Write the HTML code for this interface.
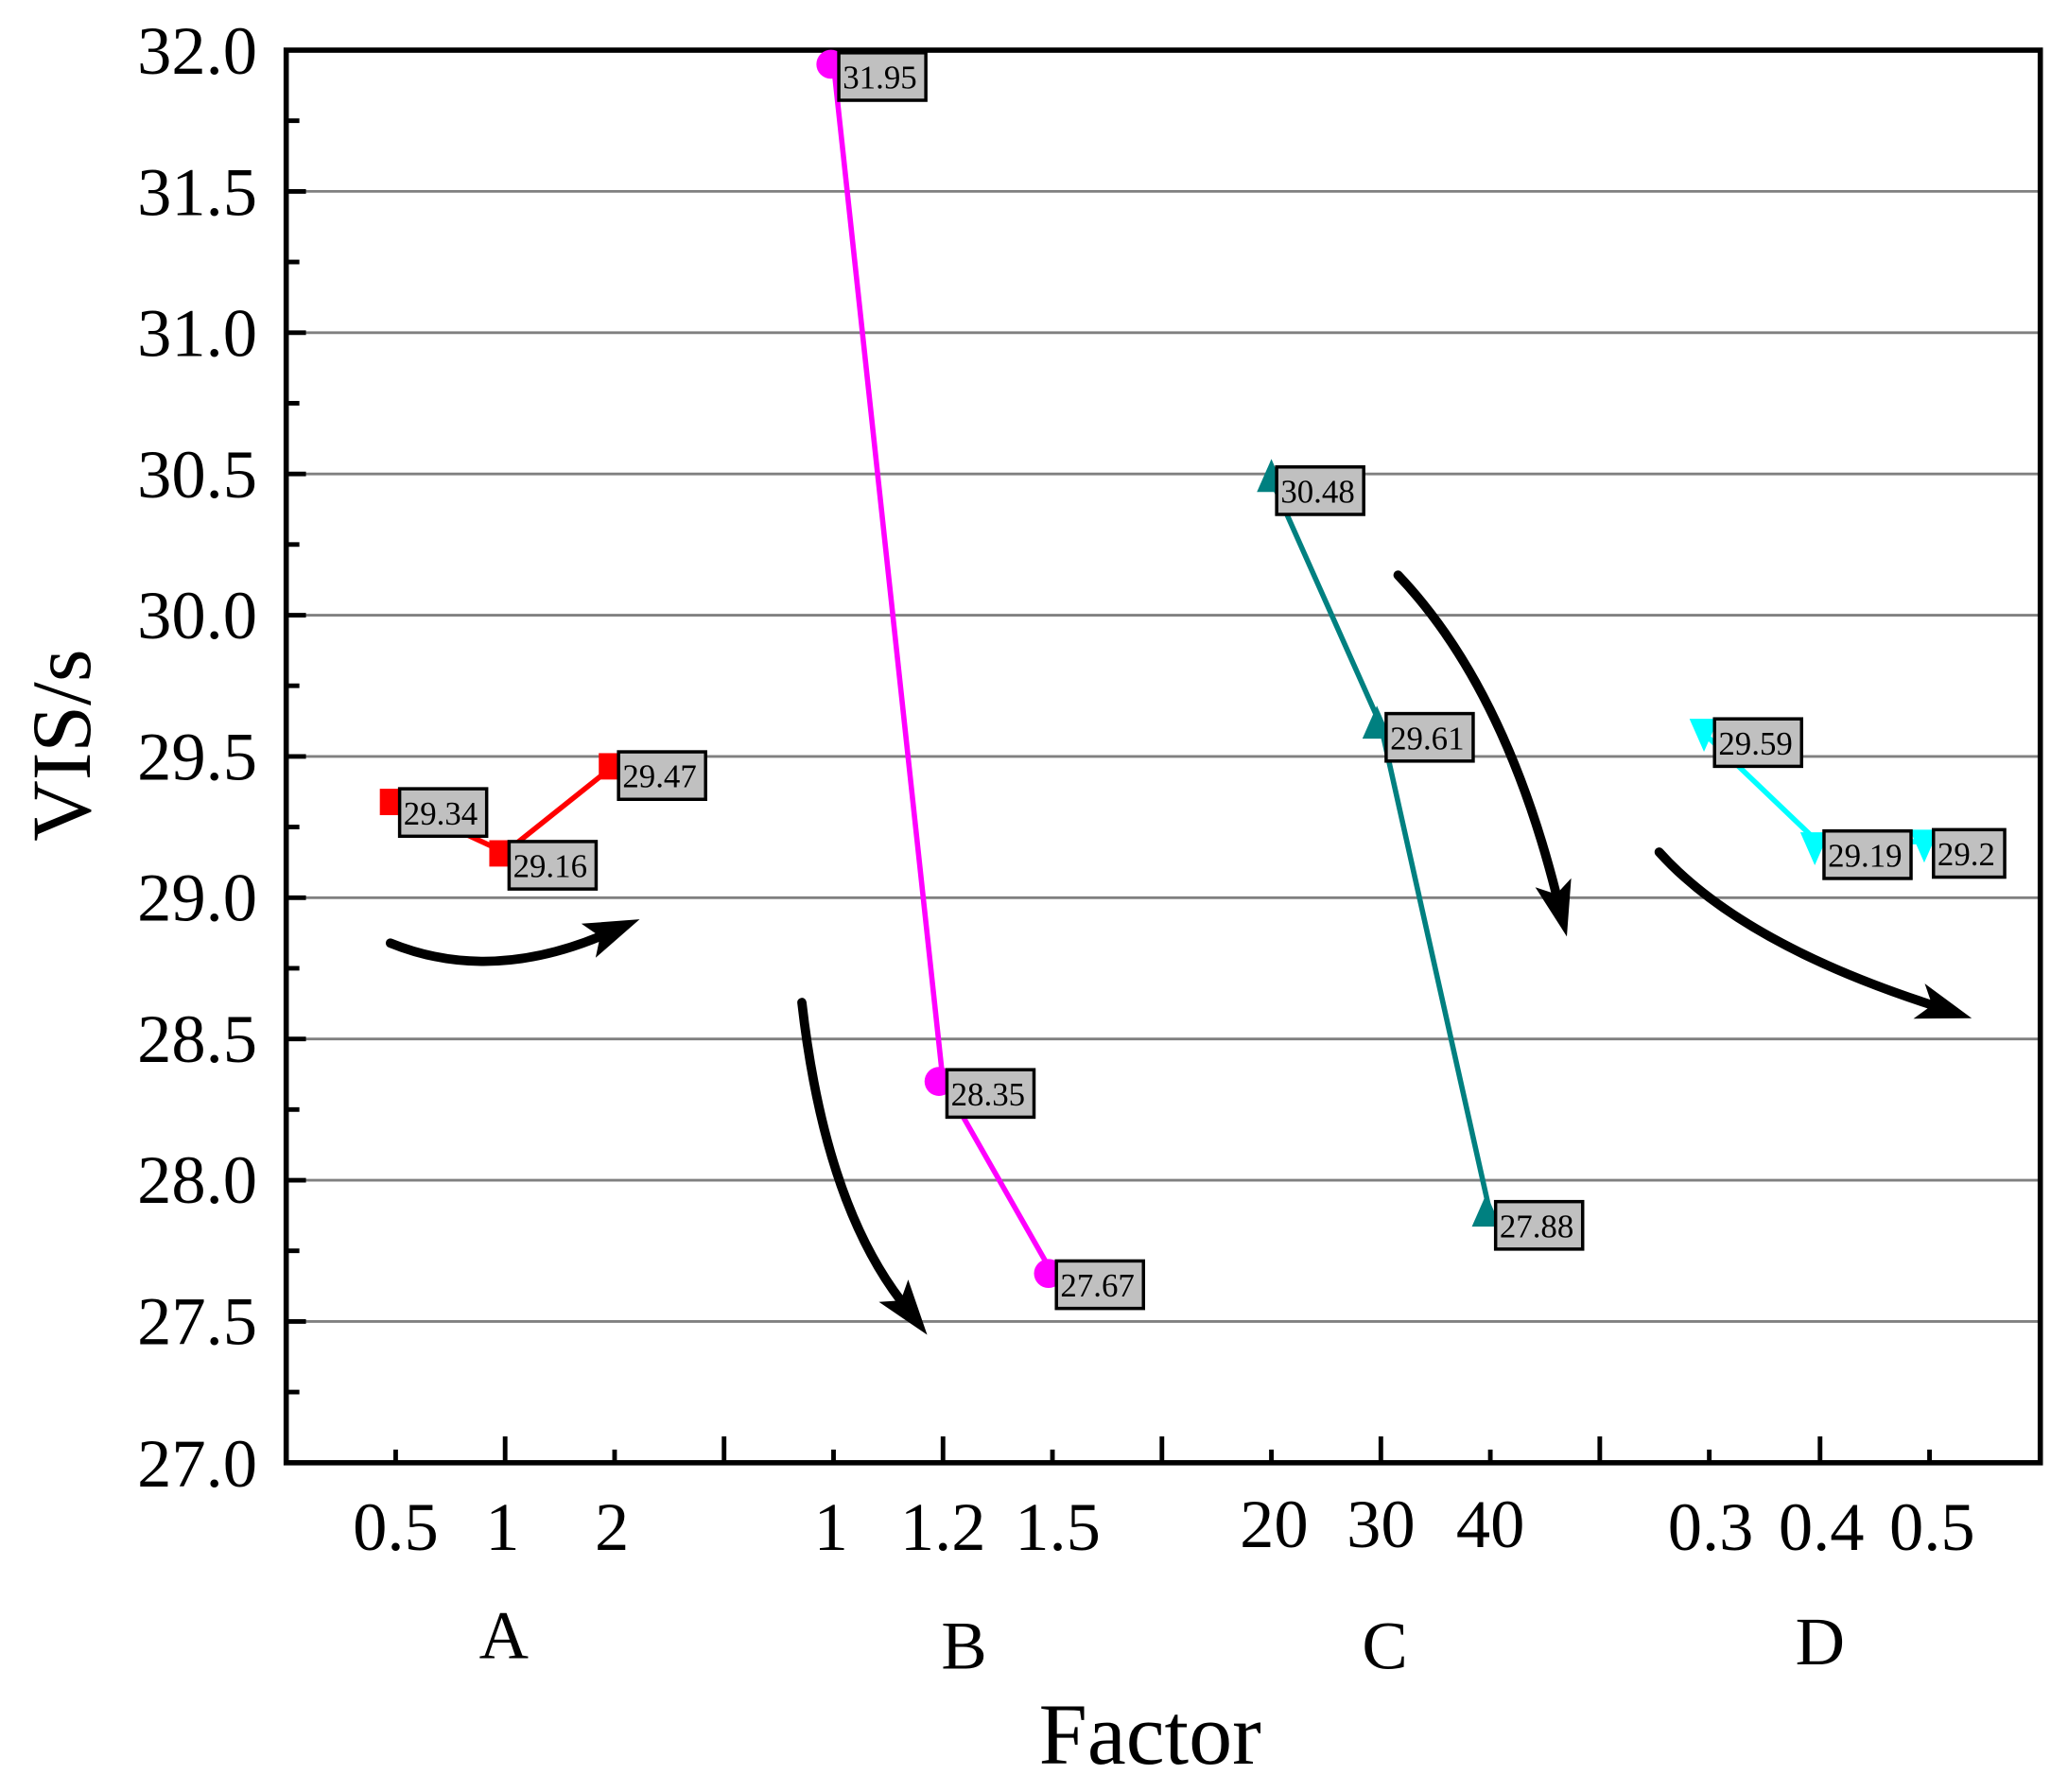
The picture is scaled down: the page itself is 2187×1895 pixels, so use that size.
<!DOCTYPE html>
<html><head><meta charset="utf-8"><style>html,body{margin:0;padding:0;background:#fff}svg{display:block}</style></head>
<body>
<svg width="2187" height="1895" viewBox="0 0 1568 1358.6" xmlns="http://www.w3.org/2000/svg" font-family="Liberation Serif, serif">
<g stroke="#808080" stroke-width="2">
<line x1="217" x2="1547" y1="145.1" y2="145.1"/>
<line x1="217" x2="1547" y1="252.2" y2="252.2"/>
<line x1="217" x2="1547" y1="359.3" y2="359.3"/>
<line x1="217" x2="1547" y1="466.4" y2="466.4"/>
<line x1="217" x2="1547" y1="573.5" y2="573.5"/>
<line x1="217" x2="1547" y1="680.6" y2="680.6"/>
<line x1="217" x2="1547" y1="787.7" y2="787.7"/>
<line x1="217" x2="1547" y1="894.8" y2="894.8"/>
<line x1="217" x2="1547" y1="1001.9" y2="1001.9"/>
</g>
<rect x="217" y="38" width="1330" height="1071" fill="none" stroke="#000" stroke-width="4"/>
<g stroke="#000" stroke-width="3.5">
<line x1="217" x2="232" y1="145.1" y2="145.1"/><line x1="217" x2="232" y1="252.2" y2="252.2"/>
<line x1="217" x2="232" y1="359.3" y2="359.3"/><line x1="217" x2="232" y1="466.4" y2="466.4"/>
<line x1="217" x2="232" y1="573.5" y2="573.5"/><line x1="217" x2="232" y1="680.6" y2="680.6"/>
<line x1="217" x2="232" y1="787.7" y2="787.7"/><line x1="217" x2="232" y1="894.8" y2="894.8"/>
<line x1="217" x2="232" y1="1001.9" y2="1001.9"/>
<line x1="217" x2="227" y1="91.5" y2="91.5"/><line x1="217" x2="227" y1="198.6" y2="198.6"/>
<line x1="217" x2="227" y1="305.7" y2="305.7"/><line x1="217" x2="227" y1="412.8" y2="412.8"/>
<line x1="217" x2="227" y1="519.9" y2="519.9"/><line x1="217" x2="227" y1="627" y2="627"/>
<line x1="217" x2="227" y1="734.1" y2="734.1"/><line x1="217" x2="227" y1="841.2" y2="841.2"/>
<line x1="217" x2="227" y1="948.3" y2="948.3"/><line x1="217" x2="227" y1="1055.4" y2="1055.4"/>
<line x1="383" x2="383" y1="1109" y2="1089"/><line x1="549" x2="549" y1="1109" y2="1089"/>
<line x1="715" x2="715" y1="1109" y2="1089"/><line x1="881" x2="881" y1="1109" y2="1089"/>
<line x1="1047" x2="1047" y1="1109" y2="1089"/><line x1="1213" x2="1213" y1="1109" y2="1089"/>
<line x1="1380" x2="1380" y1="1109" y2="1089"/>
<line x1="300" x2="300" y1="1109" y2="1099"/><line x1="466" x2="466" y1="1109" y2="1099"/>
<line x1="632" x2="632" y1="1109" y2="1099"/><line x1="798" x2="798" y1="1109" y2="1099"/>
<line x1="964" x2="964" y1="1109" y2="1099"/><line x1="1130" x2="1130" y1="1109" y2="1099"/>
<line x1="1296" x2="1296" y1="1109" y2="1099"/><line x1="1463" x2="1463" y1="1109" y2="1099"/>
</g>
<g font-size="52" text-anchor="end" fill="#000">
<text x="195" y="56">32.0</text><text x="195" y="163">31.5</text><text x="195" y="270">31.0</text>
<text x="195" y="377">30.5</text><text x="195" y="484">30.0</text><text x="195" y="591">29.5</text>
<text x="195" y="698">29.0</text><text x="195" y="805">28.5</text><text x="195" y="912">28.0</text>
<text x="195" y="1019">27.5</text><text x="195" y="1127">27.0</text>
</g>
<g font-size="52" text-anchor="middle" fill="#000">
<text x="300" y="1175">0.5</text><text x="381" y="1175">1</text><text x="464" y="1175">2</text>
<text x="630" y="1175">1</text><text x="715" y="1175">1.2</text><text x="802" y="1175">1.5</text>
<text x="966" y="1173">20</text><text x="1047" y="1173">30</text><text x="1130" y="1173">40</text>
<text x="1297" y="1175">0.3</text><text x="1381" y="1175">0.4</text><text x="1465" y="1175">0.5</text>
<text x="382" y="1257">A</text><text x="731" y="1265">B</text><text x="1050" y="1265">C</text><text x="1380" y="1262">D</text>
<text x="872" y="1337" font-size="66">Factor</text>
<text transform="translate(68,565) rotate(-90)" font-size="64">VIS/s</text>
</g>
<polyline points="300,607.8 383,646.3 466,580" fill="none" stroke="#f00" stroke-width="4"/>
<g fill="#f00"><rect x="288" y="598" width="18" height="20"/><rect x="371" y="637" width="18" height="20"/><rect x="454" y="571" width="18" height="20"/></g>
<polyline points="632,48.7 715,819.9 798,965.5" fill="none" stroke="#f0f" stroke-width="4"/>
<g fill="#f0f"><circle cx="630" cy="48.7" r="11"/><circle cx="712" cy="819.9" r="11"/><circle cx="795" cy="965.5" r="11"/></g>
<polyline points="964,363.6 1047,550 1130,920.5" fill="none" stroke="#008080" stroke-width="4"/>
<g fill="#008080"><polygon points="964,348 953,373 975,373"/><polygon points="1044,535 1033,560 1055,560"/><polygon points="1127,905 1116,930 1138,930"/></g>
<polyline points="1290,554 1380,640 1463,637.8" fill="none" stroke="#0ff" stroke-width="4"/>
<g fill="#0ff"><polygon points="1281,545 1303,545 1292,570"/><polygon points="1365,631 1387,631 1376,656"/><polygon points="1448,629 1470,629 1459,654"/></g>
<g font-size="25" fill="#000">
<g fill="#c0c0c0" stroke="#000" stroke-width="2.5">
<rect x="303" y="598" width="66" height="36"/><rect x="386" y="638" width="66" height="36"/><rect x="469" y="570" width="66" height="36"/>
<rect x="636" y="40" width="66" height="36"/><rect x="718" y="811" width="66" height="36"/><rect x="801" y="956" width="66" height="36"/>
<rect x="968" y="354" width="66" height="36"/><rect x="1051" y="541" width="66" height="36"/><rect x="1134" y="911" width="66" height="36"/>
<rect x="1300" y="545" width="66" height="36"/><rect x="1383" y="630" width="66" height="36"/><rect x="1466" y="629" width="54" height="36"/>
</g>
<text x="306" y="625">29.34</text><text x="389" y="665">29.16</text><text x="472" y="597">29.47</text>
<text x="639" y="67">31.95</text><text x="721" y="838">28.35</text><text x="804" y="983">27.67</text>
<text x="971" y="381">30.48</text><text x="1054" y="568">29.61</text><text x="1137" y="938">27.88</text>
<text x="1303" y="572">29.59</text><text x="1386" y="657">29.19</text><text x="1469" y="656">29.2</text>
</g>
<g fill="none" stroke="#000" stroke-width="7" stroke-linecap="round">
<path d="M296,715 Q370,745 455,710"/>
<path d="M608,760 Q625,910 683,986"/>
<path d="M1060,436 Q1140,520 1180,678"/>
<path d="M1258,646 Q1320,715 1465,762"/>
</g>
<g fill="#000">
<polygon points="485,697 451.6,726.1 455,710 440.8,700.3"/>
<polygon points="703,1012 666.4,987.1 683,986 688.6,970.1"/>
<polygon points="1188,710 1164.1,672.7 1180,678 1191.3,665.9"/>
<polygon points="1495,772 1450.8,772.3 1465,762 1459.4,745.7"/>
</g>
</svg>
</body></html>
